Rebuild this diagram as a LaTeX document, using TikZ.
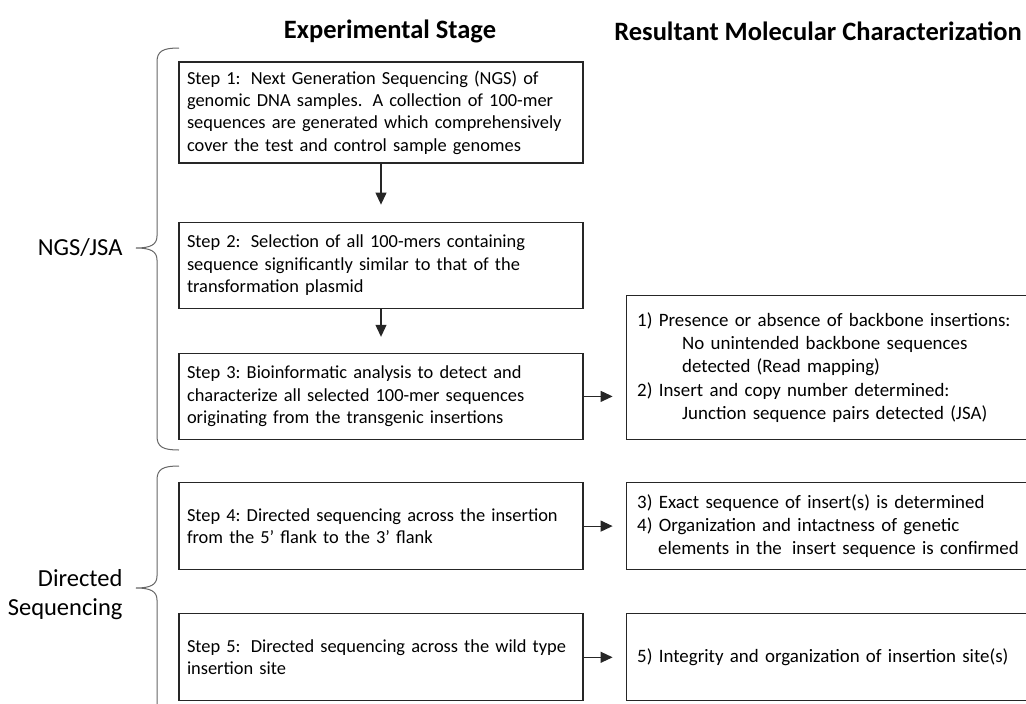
\documentclass[tikz,border=0pt]{standalone}
\usepackage{fontspec}
\setmainfont{Carlito}
\usetikzlibrary{positioning, arrows.meta}
\frenchspacing

\begin{document}
\begin{tikzpicture}[
  x=1pt, y=-1pt,
  stepbox/.style={rectangle, draw=black!85, line width=1.2pt, text width=388pt, inner xsep=8pt, inner ysep=0pt, align=left, font=\fontsize{18.4}{22.4}\selectfont},
  resbox/.style={rectangle, draw=black!85, line width=1.2pt, text width=400pt, inner xsep=11pt, inner ysep=0pt, align=left, font=\fontsize{18.9}{23.3}\selectfont},
  heading/.style={font=\fontsize{26.5}{30}\selectfont\bfseries},
  stage/.style={font=\fontsize{24.5}{29}\selectfont, align=right},
  flow/.style={-{Triangle[length=12pt, width=11pt]}, line width=1.1pt, draw=black!85},
  brace/.style={line width=1pt, draw=black!60},
  node distance=42pt,
]

\useasboundingbox (0,0) rectangle (1026,704);

%%% Headings
\node[heading] (expstage) at (390,31) {Experimental Stage};
\node[heading] (resstage) at (818,31) {Resultant Molecular Characterization};

%%% Nodes
\node[stepbox, minimum height=101pt] (step1) at (381,112.5) {Step 1:\hspace{4pt} Next Generation Sequencing (NGS) of\\ genomic DNA samples.\hspace{4pt} A collection of 100-mer\\ sequences are generated which comprehensively\\ cover the test and control sample genomes};
\node[stepbox, minimum height=86pt] (step2) [below=58pt of step1] {Step 2:\hspace{4pt} Selection of all 100-mers containing\\ sequence significantly similar to that of the\\ transformation plasmid};
\node[stepbox, minimum height=86pt] (step3) [below=44pt of step2] {Step 3: Bioinformatic analysis to detect and\\ characterize all selected 100-mer sequences\\ originating from the transgenic insertions};
\node[stepbox, minimum height=87pt] (step4) [below=of step3] {Step 4: Directed sequencing across the insertion\\ from the 5' flank to the 3' flank};
\node[stepbox, minimum height=87pt] (step5) [below=43pt of step4] {Step 5:\hspace{4pt} Directed sequencing across the wild type\\ insertion site};

\node[resbox, minimum height=144pt, right=of step3.south east, anchor=south west] (res1) {1) Presence or absence of backbone insertions:\\ \hspace*{45pt}No unintended backbone sequences\\ \hspace*{45pt}detected (Read mapping)\\ 2) Insert and copy number determined:\\ \hspace*{45pt}Junction sequence pairs detected (JSA)};
\node[resbox, minimum height=87pt] (res2) [right=of step4] {3) Exact sequence of insert(s) is determined\\ 4) Organization and intactness of genetic\\ \hspace*{21pt}elements in the\hspace{4pt} insert sequence is confirmed};
\node[resbox, minimum height=87pt] (res3) [right=of step5] {5) Integrity and organization of insertion site(s)};

%%% Braces
\coordinate (tipA) at (136,248);
\coordinate (tipB) at (136,588);
\draw[brace] (179,48) .. controls (163,48) and (157,51) .. (157,62) -- (157,236) .. controls (157,245) and (150,248) .. (tipA) .. controls (150,248) and (157,251) .. (157,260) -- (157,436) .. controls (157,447) and (163,450) .. (179,450);
\draw[brace] (179,466) .. controls (163,466) and (157,469) .. (157,480) -- (157,576) .. controls (157,585) and (150,588) .. (tipB) .. controls (150,588) and (157,591) .. (157,600) -- (157,720);
\node[stage, left=10pt of tipA] (ngs) {NGS/JSA};
\node[stage, left=10pt of tipB, yshift=-7pt] (dirseq) {Directed\\Sequencing};

%%% Arrows
\draw[flow, shorten >=17pt] (step1) -- (step2);
\draw[flow, shorten >=16pt] (step2) -- (step3);
\draw[flow, shorten >=13pt] (step3.east) -- (step3.east -| res1.west);
\draw[flow, shorten >=13pt] (step4) -- (res2);
\draw[flow, shorten >=13pt] (step5) -- (res3);

\end{tikzpicture}
\end{document}
